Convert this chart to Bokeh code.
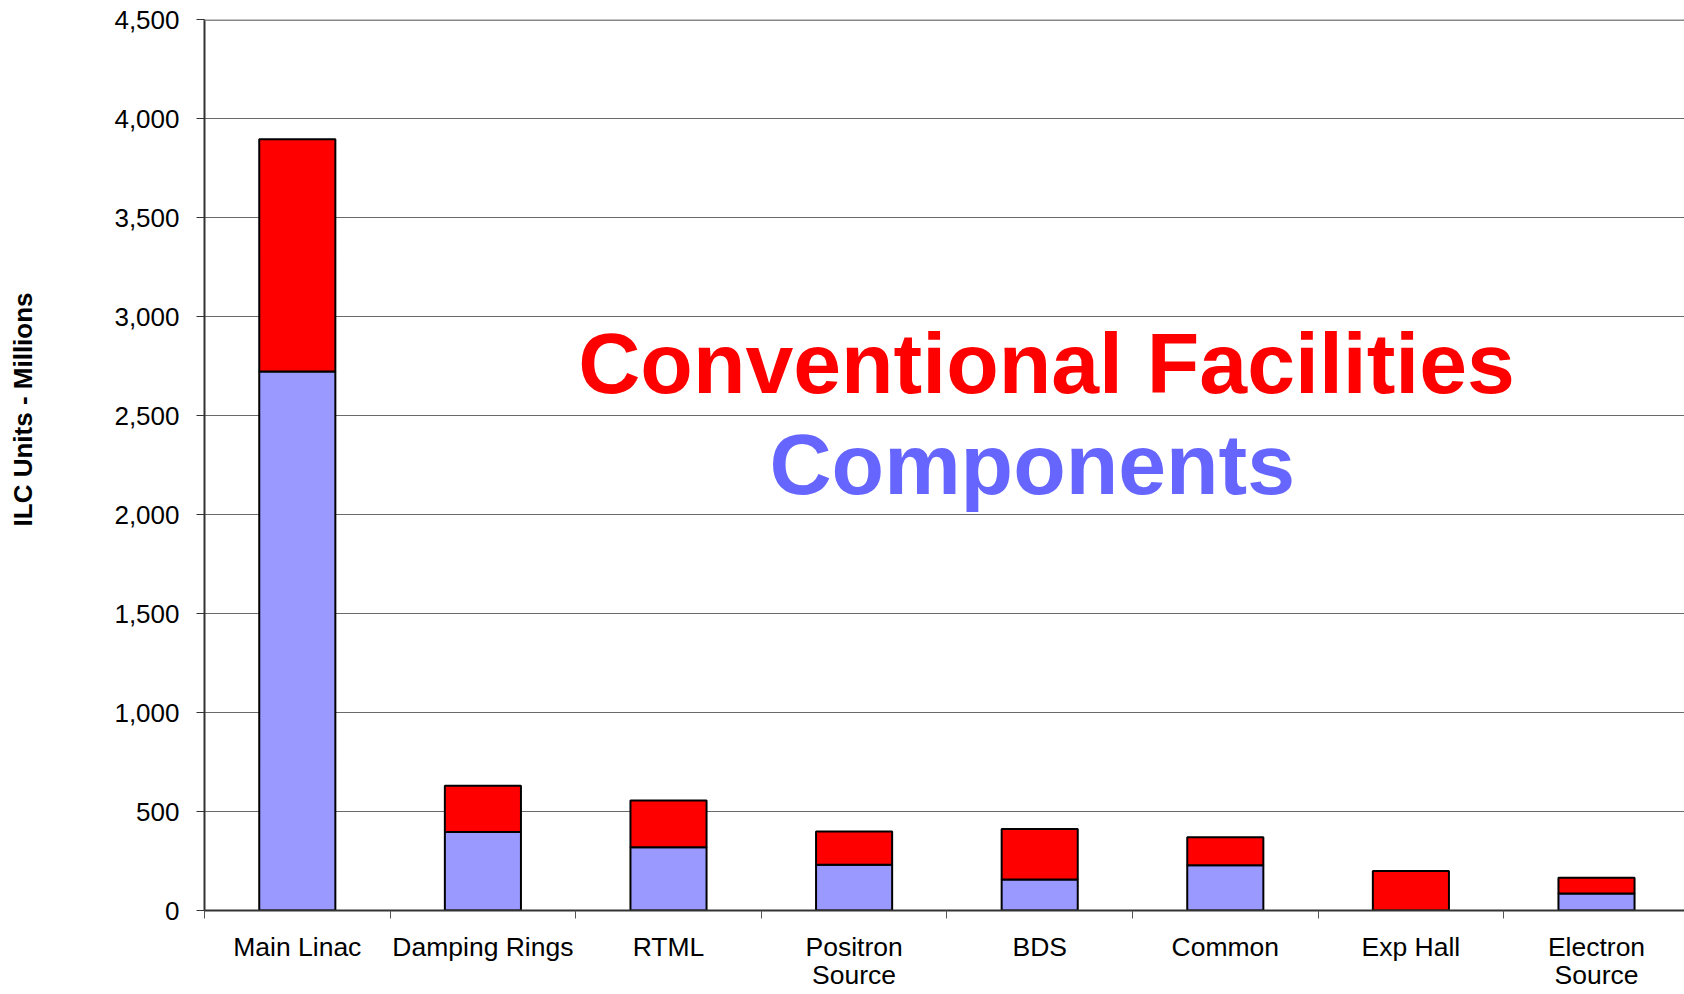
import math
from bokeh.plotting import figure
from bokeh.layouts import row
from bokeh.models import (ColumnDataSource, Range1d, FixedTicker, NumeralTickFormatter,
                          Label, Span)
from bokeh.embed import file_html
from bokeh.resources import INLINE

# ILC cost breakdown by area system (ILC Units, millions)
categories = ["Main Linac", "Damping Rings", "RTML", "Positron\nSource",
              "BDS", "Common", "Exp Hall", "Electron\nSource"]
components = [2722, 397, 320, 231, 157, 228, 0, 86]
conventional = [1173, 233, 235, 168, 254, 142, 200, 79]
y_ticks = [0, 500, 1000, 1500, 2000, 2500, 3000, 3500, 4000, 4500]

centers = [i + 0.5 for i in range(len(categories))]
bounds = [float(i) for i in range(len(categories))]

FONT = "Liberation Sans"
W, H = 1684, 994
LEFT, TOP, BOTTOM = 204, 19, 84
TITLE_W = 60          # strip holding the vertical axis title
cat_px = 185.6
Y_MAX = 4500

source = ColumnDataSource(dict(x=centers, components=components,
                               conventional=conventional))

# narrow strip with the y axis title, in pixel coordinates
side = figure(width=TITLE_W, height=H, output_backend="svg", toolbar_location=None,
              x_range=Range1d(0, TITLE_W), y_range=Range1d(0, H),
              x_axis_type=None, y_axis_type=None, min_border=0)
side.outline_line_color = None
side.grid.visible = False
side.background_fill_color = "white"
side.border_fill_color = "white"
side.add_layout(Label(x=22, y=H - 435, text="ILC Units - Millions",
                      angle=math.pi / 2, text_align="center", text_baseline="middle",
                      text_font=FONT, text_font_size="26px", text_font_style="bold",
                      text_color="black"))

p = figure(width=W - TITLE_W, height=H, output_backend="svg", toolbar_location=None,
           x_range=Range1d(0, (W - LEFT) / cat_px), y_range=Range1d(0, Y_MAX),
           min_border_left=LEFT - TITLE_W, min_border_right=0, min_border_top=TOP,
           min_border_bottom=BOTTOM)
p.outline_line_color = None
p.background_fill_color = "white"
p.border_fill_color = "white"

p.vbar_stack(["components", "conventional"], x="x", width=0.41, source=source,
             color=["#9999FF", "#FF0000"], line_color="black", line_width=2)

# y axis
yax = p.yaxis[0]
yax.ticker = FixedTicker(ticks=y_ticks)
yax.formatter = NumeralTickFormatter(format="0,0")
yax.major_tick_out = 8
yax.major_tick_in = 0
yax.minor_tick_out = 0
yax.minor_tick_in = 0
yax.major_label_standoff = 17
yax.major_label_text_font = FONT
yax.major_label_text_font_size = "26px"
yax.major_label_text_color = "black"
yax.axis_line_color = "#333333"
yax.axis_line_width = 2
yax.major_tick_line_color = "#333333"
yax.axis_label = None

# x axis: names at category centres, tick marks at category boundaries
xax = p.xaxis[0]
xax.axis_label = None
xax.ticker = FixedTicker(ticks=centers, minor_ticks=bounds)
xax.major_label_overrides = {c: lab for c, lab in zip(centers, categories)}
xax.major_tick_out = 0
xax.major_tick_in = 0
xax.minor_tick_out = 8
xax.minor_tick_in = 0
xax.minor_tick_line_color = "#555555"
xax.axis_line_color = "#333333"
xax.axis_line_width = 2
xax.major_label_standoff = 13
xax.major_label_text_font = FONT
xax.major_label_text_font_size = "26.5px"
xax.major_label_text_color = "black"
xax.major_label_text_line_height = 0.95

p.xgrid.grid_line_color = None
p.ygrid.grid_line_color = "#6a6a6a"
p.ygrid.grid_line_width = 1
p.add_layout(Span(location=Y_MAX, dimension="width", line_color="#888888",
                  line_width=3))

p.add_layout(Label(x=4.537, y=2767, text="Conventional Facilities",
                   text_align="center", text_baseline="alphabetic",
                   text_font=FONT, text_font_size="86px", text_font_style="bold",
                   text_color="#FF0000"))
p.add_layout(Label(x=4.46, y=2257, text="Components",
                   text_align="center", text_baseline="alphabetic",
                   text_font=FONT, text_font_size="86px", text_font_style="bold",
                   text_color="#6666FF"))

layout = row(side, p, spacing=0)
open("out.html", "w").write(file_html(layout, INLINE))
